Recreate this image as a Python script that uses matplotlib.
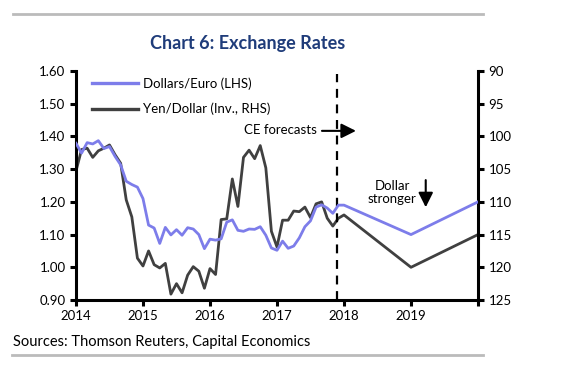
import numpy as np
import matplotlib.pyplot as plt
from matplotlib.lines import Line2D

plt.rcParams['font.family'] = ['Lato', 'DejaVu Sans']

# -----------------------------------------------------------------------------
# Data: end-of-month values, Dec 2013 .. Nov 2017 (plotted from 2014.0)
# -----------------------------------------------------------------------------
usd_eur = [1.379, 1.349, 1.381, 1.377, 1.387, 1.363, 1.369, 1.339, 1.313, 1.263,
           1.253, 1.245, 1.210,
           1.129, 1.120, 1.073, 1.122, 1.099, 1.115, 1.098, 1.121, 1.117, 1.100,
           1.057, 1.086,
           1.083, 1.087, 1.138, 1.145, 1.113, 1.110, 1.117, 1.116, 1.124, 1.098,
           1.059, 1.052,
           1.080, 1.058, 1.065, 1.090, 1.124, 1.142, 1.184, 1.191, 1.181, 1.165,
           1.190]
jpy_usd = [105.3, 102.0, 101.8, 103.2, 102.2, 101.8, 101.3, 102.8, 104.1, 109.7,
           112.3, 118.6, 119.8,
           117.5, 119.6, 120.1, 119.4, 124.1, 122.5, 123.9, 121.2, 119.9, 120.6,
           123.2, 120.2,
           121.1, 112.7, 112.6, 106.5, 110.7, 103.2, 102.1, 103.4, 101.4, 104.8,
           114.5, 116.9,
           112.8, 112.8, 111.4, 111.5, 110.8, 112.4, 110.3, 110.0, 112.5, 113.7,
           112.5]

# CE forecasts: end-2017, end-2018, end-2019
fc_years = [2018.0, 2019.0, 2020.0]
fc_eur = [1.19, 1.10, 1.20]
fc_jpy = [112.0, 120.0, 115.0]

hist_x = 2014 + np.arange(len(usd_eur)) / 12.0
eur_x = np.concatenate([hist_x, fc_years])
eur_y = np.concatenate([usd_eur, fc_eur])
jpy_y = np.concatenate([jpy_usd, fc_jpy])

purple = '#7D7DEA'
dark = '#404040'

# -----------------------------------------------------------------------------
# Plot
# -----------------------------------------------------------------------------
fig = plt.figure(figsize=(5.77, 3.78), dpi=100)
ax = fig.add_axes([0.1317, 0.2063, 0.6967, 0.6059])
ax2 = ax.twinx()

ax.plot(eur_x, eur_y, color=purple, lw=2.0, zorder=3)
ax2.plot(eur_x, jpy_y, color=dark, lw=2.0, zorder=2)

ax.set_xlim(2014, 2020)
ax.set_ylim(0.90, 1.60)
ax.set_yticks(np.arange(0.90, 1.61, 0.10))
ax.set_yticklabels(['%.2f' % v for v in np.arange(0.90, 1.61, 0.10)])
ax.set_xticks(range(2014, 2021))
ax.set_xticklabels(['2014', '2015', '2016', '2017', '2018', '2019', ''])

ax2.set_ylim(125, 90)
ax2.set_yticks(range(90, 126, 5))

for a in (ax, ax2):
    a.spines['top'].set_visible(False)
    for s in ('left', 'right', 'bottom'):
        a.spines[s].set_linewidth(2.2)
    a.tick_params(width=2.2, length=4, labelsize=9.5, colors='black')
ax.spines['right'].set_visible(False)
ax2.spines['left'].set_visible(False)
ax2.spines['bottom'].set_visible(False)
ax.tick_params(axis='x', pad=3)
ax.set_zorder(ax2.get_zorder() + 1)
ax.patch.set_visible(False)

# forecast start marker
ax.axvline(2017.9, ymin=0.0, ymax=0.985, color='black', lw=1.6, ls=(0, (4, 3)))

# legend
handles = [Line2D([], [], color=purple, lw=2.4), Line2D([], [], color=dark, lw=2.4)]
ax.legend(handles, ['Dollars/Euro (LHS)', 'Yen/Dollar (Inv., RHS)'],
          loc='upper left', bbox_to_anchor=(0.01, 1.025), frameon=False,
          fontsize=9.5, handlelength=3.5, handletextpad=0.35, labelspacing=1.0)

# annotations
ax.text(2017.6, 1.42, 'CE forecasts', ha='right', va='center', fontsize=9.5)
ax.annotate('', xy=(2018.22, 1.417), xytext=(2017.63, 1.417),
            arrowprops=dict(arrowstyle='-|>', color='black', lw=1.5,
                            mutation_scale=22))
ax.text(2018.72, 1.23, 'Dollar\nstronger', ha='center', va='center',
        fontsize=9.5, linespacing=1.1)
ax.annotate('', xy=(2019.22, 1.175), xytext=(2019.22, 1.275),
            arrowprops=dict(arrowstyle='-|>', color='black', lw=1.5,
                            mutation_scale=22))

# title, source and frame lines
fig.text(0.43, 0.886, 'Chart 6: Exchange Rates', ha='center', va='center',
         fontsize=13, fontweight='bold', color='#1F3C7A')
fig.text(0.023, 0.095, 'Sources: Thomson Reuters, Capital Economics',
         ha='left', va='center', fontsize=10.5)
fig.add_artist(Line2D([0.022, 0.837], [0.963, 0.963], color='#BBBBBB', lw=2))
fig.add_artist(Line2D([0.021, 0.837], [0.061, 0.061], color='#BBBBBB', lw=2))

fig.savefig('out.png', dpi=100)
